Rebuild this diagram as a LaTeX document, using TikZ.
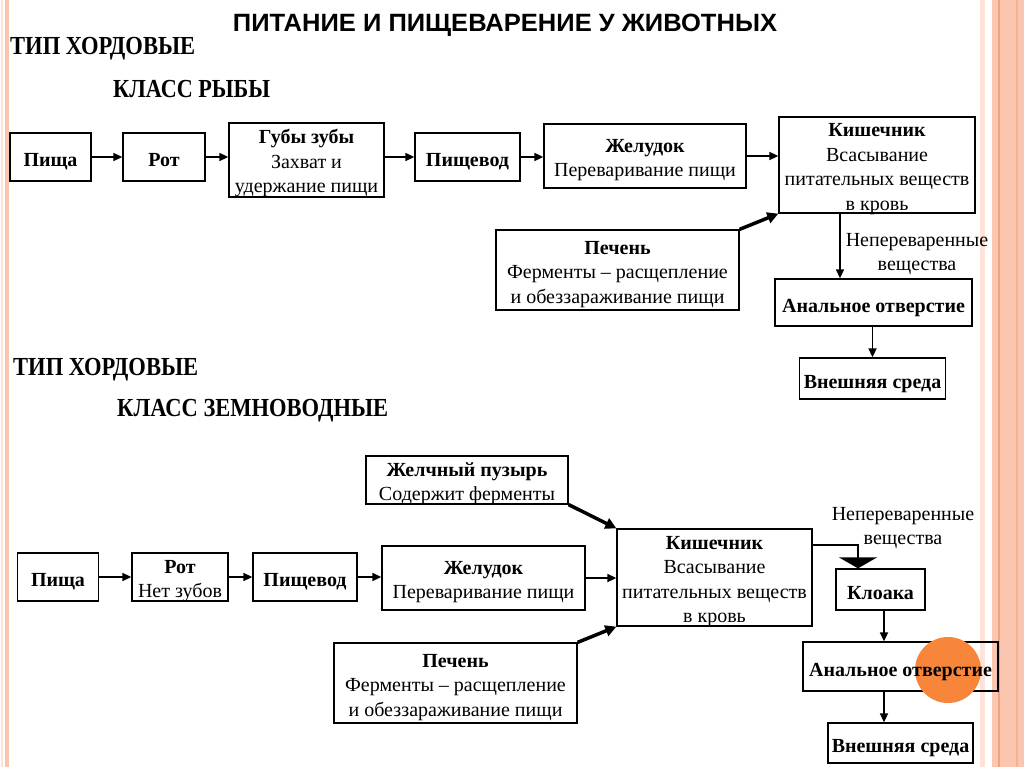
\documentclass[tikz,border=0pt]{standalone}
\usepackage{fontspec}
\setmainfont{Liberation Serif}
\newfontfamily\titlesans{Liberation Sans}
\usetikzlibrary{arrows.meta}
\definecolor{stripesalmon}{HTML}{FBC6B0}
\definecolor{stripelight}{HTML}{FDE3D8}
\definecolor{stripedark}{HTML}{F3A27F}
\definecolor{dotorange}{HTML}{F7863A}
\newcommand\firstln{\rule{0pt}{17pt}}
\tikzset{
 box/.style={draw, line width=1.3pt, align=center, inner sep=0pt, text depth=0pt, execute at begin node={\rule{0pt}{19.5pt}}, font=\fontsize{20}{24.5}\selectfont},
 arr/.style={line width=1.6pt, -{Triangle[length=9pt,width=8pt]}},
 thickarr/.style={line width=3.5pt, -{Triangle[length=11pt,width=11pt]}},
 bigarr/.style={line width=1.3pt, -{Triangle[length=11pt,width=38pt]}},
 lbl/.style={align=center, inner sep=0pt, font=\fontsize{20}{24.5}\selectfont},
 head/.style={anchor=base west, inner sep=0pt, font=\bfseries\fontsize{26}{26}\selectfont},
}
\begin{document}
\begin{tikzpicture}[x=1pt,y=-1pt]
\useasboundingbox (0,0) rectangle (1024,767);
\fill[white] (0,0) rectangle (1024,767);
% border stripes
\fill[stripelight] (1,0) rectangle (3,767);
\fill[stripesalmon] (5,0) rectangle (9,767);
\fill[stripelight] (980,0) rectangle (985,767);
\fill[stripesalmon] (992,0) rectangle (1024,767);
\fill[stripedark] (998,0) rectangle (1000,767);
\fill[stripedark!60!stripesalmon] (1016,0) rectangle (1018,767);

% headings
\node[anchor=base, inner sep=0pt, font=\titlesans\bfseries\fontsize{25}{25}\selectfont] (title) at (505,32) {\resizebox{544pt}{\height}{ПИТАНИЕ И ПИЩЕВАРЕНИЕ У ЖИВОТНЫХ}};
\node[head] (tip1) at (10,55) {\resizebox{185pt}{\height}{ТИП ХОРДОВЫЕ}};
\node[head] (klass1) at (113,98) {\resizebox{157pt}{\height}{КЛАСС РЫБЫ}};
\node[head] (tip2) at (13,375) {\resizebox{185pt}{\height}{ТИП ХОРДОВЫЕ}};
\node[head] (klass2) at (117,416) {\resizebox{271pt}{\height}{КЛАСС ЗЕМНОВОДНЫЕ}};

% ---- fish ----
\node[box, minimum width=81pt, minimum height=48pt] (pisha1) at (50.5,157) {\textbf{Пища}};
\node[box, minimum width=82pt, minimum height=48pt] (rot1) at (164,157) {\textbf{Рот}};
\node[box, minimum width=155pt, minimum height=74pt] (guby) at (306.5,160) {\firstln\textbf{Губы зубы}\\Захват и\\удержание пищи};
\node[box, minimum width=105pt, minimum height=48pt] (pishevod1) at (467.5,157) {\textbf{Пищевод}};
\node[box, minimum width=202pt, minimum height=64pt] (zhel1) at (645,156) {\firstln\textbf{Желудок}\\Переваривание пищи};
\node[box, minimum width=196pt, minimum height=96pt] (kish1) at (877,165) {\firstln\textbf{Кишечник}\\Всасывание\\питательных веществ\\в кровь};
\node[box, minimum width=243pt, minimum height=80pt] (pechen1) at (617.5,270) {\firstln\textbf{Печень}\\Ферменты – расщепление\\и обеззараживание пищи};
\node[box, minimum width=197pt, minimum height=47pt] (anal1) at (873.5,302.5) {\textbf{Анальное отверстие}};
\node[box, minimum width=146pt, minimum height=41pt] (vnesh1) at (872.5,378.5) {\textbf{Внешняя среда}};
\node[lbl] (nep1) at (917,254) {Непереваренные\\вещества};

\draw[arr] (pisha1) -- (rot1);
\draw[arr] (rot1) -- (rot1.east -| guby.west);
\draw[arr] (guby.east |- pishevod1.east) -- (pishevod1);
\draw[arr] (pishevod1.east) -- (pishevod1.east -| zhel1.west);
\draw[arr] (zhel1) -- (zhel1.east -| kish1.west);
\draw[thickarr] (pechen1.north east) -- (kish1.south west);
\coordinate (c1) at (840,0);
\draw[arr] (kish1.south -| c1) -- (anal1.north -| c1);
\draw[arr] (anal1.south -| vnesh1.north) -- (vnesh1.north);

% ---- amphibians ----
\node[box, minimum width=202pt, minimum height=48pt] (zhpuz) at (467,480) {\firstln\textbf{Желчный пузырь}\\Содержит ферменты};
\node[box, minimum width=81pt, minimum height=48pt] (pisha2) at (58,577) {\textbf{Пища}};
\node[box, minimum width=96pt, minimum height=48pt] (rot2) at (180,577) {\firstln\textbf{Рот}\\Нет зубов};
\node[box, minimum width=104pt, minimum height=48pt] (pishevod2) at (305,577) {\textbf{Пищевод}};
\node[box, minimum width=203pt, minimum height=64pt] (zhel2) at (483.5,578) {\firstln\textbf{Желудок}\\Переваривание пищи};
\node[box, minimum width=195pt, minimum height=97pt] (kish2) at (714.5,577.5) {\firstln\textbf{Кишечник}\\Всасывание\\питательных веществ\\в кровь};
\node[box, minimum width=243pt, minimum height=80pt] (pechen2) at (455.5,683) {\firstln\textbf{Печень}\\Ферменты – расщепление\\и обеззараживание пищи};
\node[box, minimum width=89pt, minimum height=41pt] (kloaka) at (880.5,589.5) {\textbf{Клоака}};
\node[box, minimum width=195pt, minimum height=49pt] (anal2) at (900.5,666.5) {\phantom{\textbf{Анальное отверстие}}};
\fill[dotorange] (948,670) circle (33);
\node[lbl, text depth=0pt, execute at begin node={\rule{0pt}{19.5pt}}, font=\bfseries\fontsize{20}{24}\selectfont] (anal2t) at (anal2.center) {Анальное отверстие};
\node[box, minimum width=145pt, minimum height=40pt] (vnesh2) at (900.5,743) {\textbf{Внешняя среда}};
\node[lbl] (nep2) at (903,528) {Непереваренные\\вещества};

\draw[arr] (pisha2) -- (rot2);
\draw[arr] (rot2) -- (pishevod2);
\draw[arr] (pishevod2.east) -- (pishevod2.east -| zhel2.west);
\draw[arr] (zhel2) -- (zhel2.east -| kish2.west);
\draw[thickarr] (zhpuz.south east) -- (kish2.north west);
\draw[thickarr] (pechen2.north east) -- (kish2.south west);
\coordinate (c2) at (858,545);
\draw[bigarr] (kish2.east |- c2) -| (kloaka.north -| c2);
\coordinate (c4) at (884,0);
\draw[arr] (kloaka.south -| c4) -- (anal2.north -| c4);
\draw[arr] (anal2.south -| c4) -- (vnesh2.north -| c4);
\end{tikzpicture}
\end{document}
